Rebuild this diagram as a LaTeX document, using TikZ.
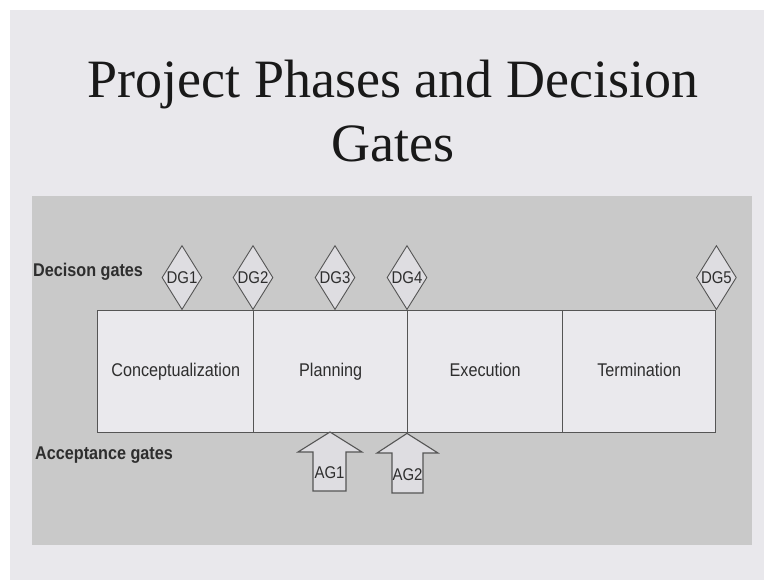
\documentclass[tikz,border=0pt]{standalone}
\usepackage{fontspec}
\setmainfont{Liberation Serif}
\newfontfamily\labelfont[FakeStretch=0.88]{Liberation Sans}
\usetikzlibrary{shapes.geometric}

\definecolor{slidebg}{HTML}{E9E8EC}
\definecolor{panelbg}{HTML}{C9C9C9}
\definecolor{boxbg}{HTML}{EAE9ED}
\definecolor{gatebg}{HTML}{DEDDE1}
\definecolor{edge}{HTML}{555555}
\definecolor{ink}{HTML}{2E2E2E}

\tikzset{
  phasebox/.style={draw=edge, line width=1.4pt, fill=boxbg, rectangle,
    inner sep=0pt, minimum height=122pt, anchor=north west,
    text height=13pt, text depth=4pt,
    font=\labelfont\fontsize{18.4}{20}\selectfont, text=ink},
  gatediamond/.style={draw=edge, line width=0.9pt, fill=gatebg, diamond,
    aspect=0.625, inner sep=0pt, minimum width=40pt, minimum height=64pt,
    font=\labelfont\fontsize{17}{19}\selectfont, text=ink},
  gatearrow/.style={draw=edge, line width=1.1pt, fill=gatebg, line join=miter},
  gatelabel/.style={font=\labelfont\fontsize{17}{19}\selectfont, text=ink, inner sep=0pt},
  rowlabel/.style={font=\labelfont\bfseries\fontsize{18.4}{20}\selectfont,
    text=ink, anchor=west, inner sep=0pt},
  titletext/.style={font=\fontsize{54}{60}\selectfont, text=black!90, anchor=base, inner sep=0pt}
}
% gate caption that may run over the diamond's outline
\newcommand{\gatecap}[1]{\makebox[0pt]{#1}}

\begin{document}
\begin{tikzpicture}[x=1pt, y=-1pt]
  % page and slide background
  \fill[white] (0,0) rectangle (764,580);
  \fill[slidebg] (10,10) rectangle (764,580);
  \useasboundingbox (0,0) rectangle (764,580);

  % title
  \node[titletext] (title1) at (393,98) {Project Phases and Decision};
  \node[titletext] (title2) at (393,162) {Gates};

  % grey panel
  \fill[panelbg] (32,196) rectangle (752,545);

  % phases
  \node[phasebox, minimum width=156pt] (conc) at (97,310) {Conceptualization};
  \node[phasebox, minimum width=154pt] (plan) at (253,310) {Planning};
  \node[phasebox, minimum width=155pt] (exec) at (407,310) {Execution};
  \node[phasebox, minimum width=153pt] (term) at (562,310) {Termination};

  % decision gates
  \node[rowlabel] (dglabel) at (33,272) {Decison gates};
  \node[gatediamond, anchor=south] (dg1) at (182,310) {\gatecap{DG1}};
  \node[gatediamond, anchor=south] (dg2) at (plan.north west) {\gatecap{DG2}};
  \node[gatediamond, anchor=south] (dg3) at (335,310) {\gatecap{DG3}};
  \node[gatediamond, anchor=south] (dg4) at (exec.north west) {\gatecap{DG4}};
  \node[gatediamond, anchor=south] (dg5) at (term.north east) {\gatecap{DG5}};

  % acceptance gates
  \node[rowlabel] (aglabel) at (35,455) {Acceptance gates};
  \draw[gatearrow] (330,432) -- (362,452) -- (346,452) -- (346,491)
    -- (313,491) -- (313,452) -- (298,452) -- cycle;
  \node[gatelabel] (ag1) at (329.5,473) {AG1};
  \draw[gatearrow] (exec.south west) -- (438,453) -- (423,453) -- (423,493)
    -- (392,493) -- (392,453) -- (377,453) -- cycle;
  \node[gatelabel] (ag2) at (407.5,475) {AG2};
\end{tikzpicture}
\end{document}
